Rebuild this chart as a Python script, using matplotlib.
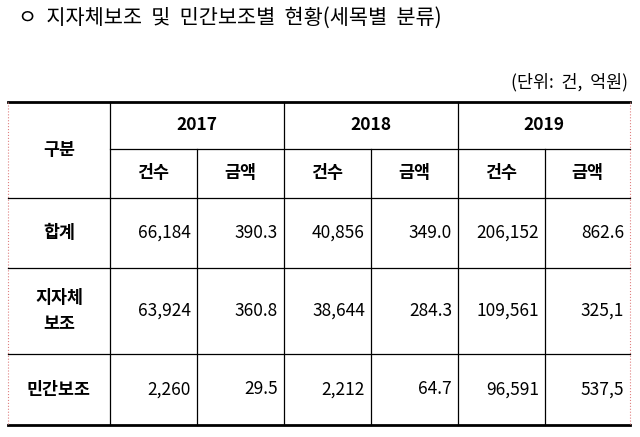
import matplotlib
matplotlib.use("Agg")
import matplotlib.pyplot as plt

plt.rcParams['font.family'] = ['Noto Sans CJK KR', 'DejaVu Sans']

title = "ㅇ  지자체보조  및  민간보조별  현황(세목별  분류)"
unit = "(단위:  건,  억원)"
years = ["2017", "2018", "2019"]
subheads = ["건수", "금액"]
row_labels = ["합계", "지자체\n보조", "민간보조"]
counts = [[66184, 40856, 206152], [63924, 38644, 109561], [2260, 2212, 96591]]
amounts = [["390.3", "349.0", "862.6"], ["360.8", "284.3", "325,1"], ["29.5", "64.7", "537,5"]]

fig = plt.figure(figsize=(6.4, 4.37), dpi=100)
ax = fig.add_axes([0, 0, 1, 1])
ax.set_xlim(0, 640); ax.set_ylim(437, 0); ax.axis('off')

xs = [8, 110, 197, 284, 371, 458, 545, 630]
ys = [102, 149, 198, 268, 354, 425]

ax.text(18, 18, title, fontsize=15, va='center', ha='left')
ax.text(628, 82, unit, fontsize=12.5, va='center', ha='right')

ax.plot([xs[0], xs[-1]], [ys[0], ys[0]], color='black', lw=2)
ax.plot([xs[0], xs[-1]], [ys[-1], ys[-1]], color='black', lw=2)
for x in (xs[0], xs[-1]):
    ax.plot([x, x], [ys[0], ys[-1]], color='#e08080', lw=0.8, ls=':')
ax.plot([xs[1], xs[-1]], [ys[1], ys[1]], color='black', lw=0.9)
for y in ys[2:5]:
    ax.plot([xs[0], xs[-1]], [y, y], color='black', lw=0.9)
for i, x in enumerate(xs[1:-1], start=1):
    top = ys[0] if i % 2 == 1 else ys[1]
    ax.plot([x, x], [top, ys[-1]], color='black', lw=0.9)

ax.text((xs[0]+xs[1])/2, (ys[0]+ys[2])/2, "구분", fontsize=12.5, fontweight='bold', ha='center', va='center')
for j, yr in enumerate(years):
    cx = (xs[1+2*j] + xs[3+2*j]) / 2
    ax.text(cx, (ys[0]+ys[1])/2, yr, fontsize=12.5, fontweight='bold', ha='center', va='center')
    for k, sh in enumerate(subheads):
        c = (xs[1+2*j+k] + xs[2+2*j+k]) / 2
        ax.text(c, (ys[1]+ys[2])/2, sh, fontsize=12.5, fontweight='bold', ha='center', va='center')

for r, lab in enumerate(row_labels):
    cy = (ys[2+r] + ys[3+r]) / 2
    ax.text((xs[0]+xs[1])/2, cy, lab, fontsize=12.5, fontweight='bold', ha='center', va='center', linespacing=1.6)
    for j in range(3):
        ax.text(xs[2+2*j]-6, cy, f"{counts[r][j]:,}", fontsize=12.5, ha='right', va='center')
        ax.text(xs[3+2*j]-6, cy, amounts[r][j], fontsize=12.5, ha='right', va='center')

fig.savefig("out.png", dpi=100)
